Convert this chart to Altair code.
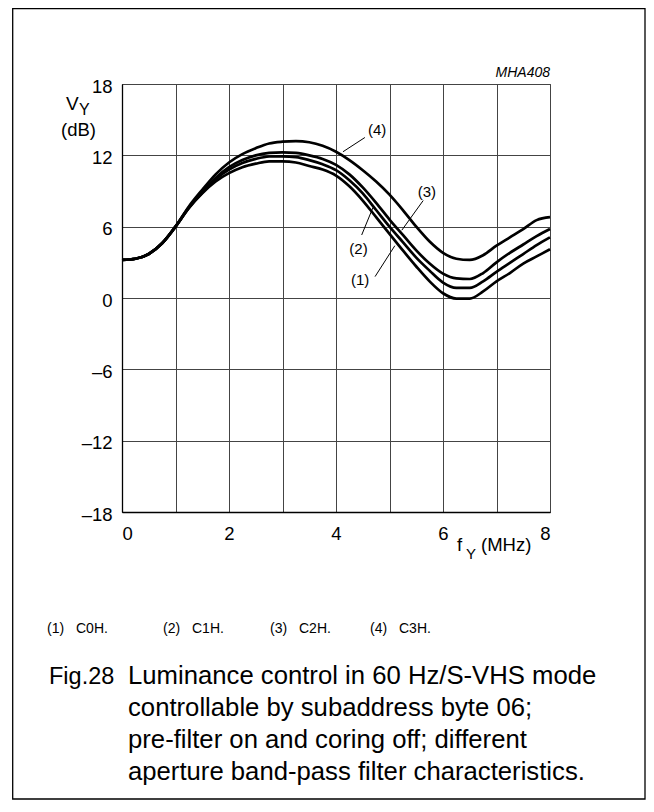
import altair as alt
import pandas as pd

# ---- data ----
freq = [0, 0.25, 0.5, 0.75, 1.0, 1.25, 1.5, 1.75, 2.0, 2.25, 2.5, 2.75, 3.0, 3.25,
        3.5, 3.75, 4.0, 4.25, 4.5, 4.75, 5.0, 5.25, 5.5, 5.75, 6.0, 6.25, 6.5, 6.75,
        7.0, 7.25, 7.5, 7.75, 8.0]
c0h = [3.2, 3.3, 3.7, 4.6, 6.0, 7.55, 8.8, 9.8, 10.5, 11.0, 11.3, 11.5, 11.5, 11.4,
       11.1, 10.8, 10.3, 9.4, 8.2, 6.8, 5.4, 4.0, 2.65, 1.4, 0.4, -0.05, -0.05, 0.55,
       1.4, 2.1, 2.9, 3.5, 4.1]
c1h = [3.2, 3.3, 3.7, 4.6, 6.0, 7.6, 8.85, 10.0, 10.8, 11.35, 11.7, 11.9, 11.92, 11.85,
       11.6, 11.25, 10.75, 9.9, 8.8, 7.4, 6.0, 4.7, 3.4, 2.3, 1.3, 0.85, 0.85, 1.4,
       2.2, 2.95, 3.7, 4.45, 5.1]
c2h = [3.2, 3.3, 3.7, 4.6, 6.0, 7.6, 8.9, 10.1, 11.0, 11.6, 12.0, 12.2, 12.25, 12.2,
       12.0, 11.7, 11.2, 10.4, 9.3, 8.0, 6.6, 5.3, 4.0, 2.9, 2.05, 1.65, 1.6, 2.1,
       3.0, 3.8, 4.5, 5.2, 5.8]
c3h = [3.2, 3.3, 3.7, 4.6, 6.0, 7.7, 9.1, 10.4, 11.4, 12.1, 12.6, 13.0, 13.15, 13.2,
       13.1, 12.8, 12.3, 11.6, 10.75, 9.8, 8.7, 7.4, 6.0, 4.75, 3.8, 3.3, 3.2, 3.6,
       4.4, 5.1, 5.8, 6.55, 6.8]
series_names = ["C0H", "C1H", "C2H", "C3H"]
series_values = [c0h, c1h, c2h, c3h]

x_ticks = [0, 1, 2, 3, 4, 5, 6, 7, 8]
y_ticks = [-18, -12, -6, 0, 6, 12, 18]

# curve labels and leader lines (data coordinates)
lab_text = ["(1)", "(2)", "(3)", "(4)"]
lab_f = [4.45, 4.42, 5.70, 4.77]
lab_v = [1.5, 4.15, 8.9, 14.1]
lead_f1 = [4.73, 4.48, 5.63, 4.54]
lead_v1 = [1.8, 5.3, 8.2, 13.5]
lead_f2 = [5.1, 4.69, 5.23, 4.13]
lead_v2 = [4.4, 7.6, 5.7, 12.3]

legend_num = ["(1)", "(2)", "(3)", "(4)"]
legend_txt = ["C0H.", "C1H.", "C2H.", "C3H."]
legend_x = [47, 163, 270, 370]

caption = ["Luminance control in 60 Hz/S-VHS mode",
           "controllable by subaddress byte 06;",
           "pre-filter on and coring off; different",
           "aperture band-pass filter characteristics."]

# ---- build tables ----
rows = []
for name, vals in zip(series_names, series_values):
    for f, v in zip(freq, vals):
        rows.append({"f": f, "v": v, "s": name})
curves = pd.DataFrame(rows)
labels = pd.DataFrame({"f": lab_f, "v": lab_v, "t": lab_text})
leaders = pd.DataFrame({"f": lead_f1, "v": lead_v1, "f2": lead_f2, "v2": lead_v2})

FONT = "Liberation Sans"
W, H = 428, 428
OX, OY = 122, 84  # plot origin on the page
SVG_W, SVG_H = 638, 792

xs = alt.Scale(domain=[0, 8], nice=False)
ys = alt.Scale(domain=[-18, 18], nice=False)

lines = alt.Chart(curves).mark_line(
    color="black", strokeWidth=2.7, interpolate="monotone"
).encode(
    x=alt.X("f:Q", scale=xs, axis=alt.Axis(
        values=x_ticks, title=None, grid=True, gridColor="#444", gridWidth=1,
        gridOpacity=1, ticks=False, domainColor="black", domainWidth=1.3,
        labelExpr="datum.value % 2 == 0 ? datum.label : ''",
        labelFont=FONT, labelFontSize=18.5, labelColor="black", labelPadding=12)),
    y=alt.Y("v:Q", scale=ys, axis=alt.Axis(
        values=y_ticks, title=None, grid=True, gridColor="#444", gridWidth=1,
        gridOpacity=1, ticks=False, domainColor="black", domainWidth=1.3,
        labelExpr="datum.value < 0 ? '\u2013' + abs(datum.value) : datum.label",
        labelFont=FONT, labelFontSize=18.5, labelColor="black", labelPadding=10,
        labelOffset=2)),
    detail="s:N",
)

lead = alt.Chart(leaders).mark_rule(color="black", strokeWidth=1).encode(
    x="f:Q", y="v:Q", x2="f2:Q", y2="v2:Q")

lab = alt.Chart(labels).mark_text(font=FONT, fontSize=15, color="black").encode(
    x="f:Q", y="v:Q", text="t:N")


def txt(s, px, py, size=16, align="left", baseline="alphabetic", style="normal"):
    return alt.Chart(pd.DataFrame({"t": [s]})).mark_text(
        font=FONT, fontSize=size, align=align, baseline=baseline,
        fontStyle=style, color="black").encode(
        x=alt.value(px - OX), y=alt.value(py - OY), text="t:N")


annots = [
    txt("V", 66, 110, 19),
    txt("Y", 79, 115, 16),
    txt("(dB)", 61, 136, 18.5),
    txt("f", 457, 551, 18.5),
    txt("Y", 466, 559, 15),
    txt("(MHz)", 481, 551, 18.5),
    txt("MHA408", 550, 76.5, 14, align="right", style="italic"),
]
for n, t, lx in zip(legend_num, legend_txt, legend_x):
    annots.append(txt(n, lx, 633, 14))
    annots.append(txt(t, lx + 29, 633, 14))
annots.append(txt("Fig.28", 49, 684, 23.5))
for i, line in enumerate(caption):
    annots.append(txt(line, 128, 684 + 32 * i, 25.7))

frame = alt.Chart(pd.DataFrame({"a": [0]})).mark_rect(
    fill=None, stroke="black", strokeWidth=1.3).encode(
    x=alt.value(12.7 - OX), x2=alt.value(8 + SVG_W - 1 - OX),
    y=alt.value(8.7 - OY), y2=alt.value(8 + SVG_H - 1 - OY))

chart = alt.layer(lines, lead, lab, frame, *annots).properties(
    width=W, height=H,
    padding={"left": OX - 8, "top": OY - 8, "right": SVG_W - (OX - 8) - W,
             "bottom": SVG_H - (OY - 8) - H},
    autosize=alt.AutoSizeParams(type="none"),
).configure_view(stroke="#444", strokeWidth=1)

chart.save("out.html", embed_options={"renderer": "svg", "actions": False})
